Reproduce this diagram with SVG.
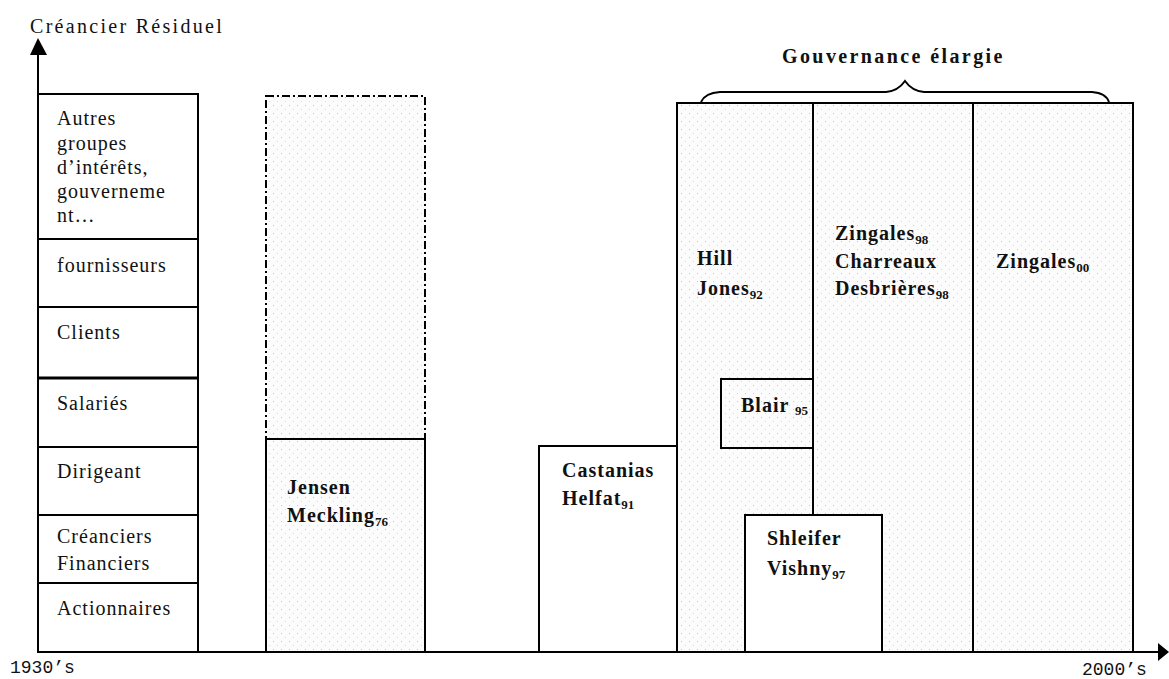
<svg xmlns="http://www.w3.org/2000/svg" width="1169" height="679" viewBox="0 0 1169 679">
<style>
.ln{stroke:#000;stroke-width:2;fill:none}
.box{stroke:#000;stroke-width:2}
.t{font-family:"Liberation Serif",serif;font-size:20px;letter-spacing:1px;fill:#111}
.b{font-family:"Liberation Serif",serif;font-size:20px;font-weight:bold;letter-spacing:1px;fill:#111}
.sub{font-size:13px;letter-spacing:0}
.m{font-family:"Liberation Mono",monospace;font-size:18px;fill:#111}
</style>
<defs>
<pattern id="dots" width="8" height="8" patternUnits="userSpaceOnUse">
<rect width="8" height="8" fill="#fcfcfc"/>
<rect x="1" y="1" width="1" height="1" fill="#c8c8c8"/>
<rect x="5" y="5" width="1" height="1" fill="#d8d8d8"/>
</pattern>
</defs>
<rect width="1169" height="679" fill="#fff"/>

<g id="axes">
<line class="ln" x1="38" y1="653" x2="38" y2="50"/>
<path d="M30,55 L38,38 L47,55 z" fill="#000"/>
<line class="ln" x1="38" y1="652" x2="1160" y2="652"/>
<path d="M1158,643 L1169,652 L1158,661 z" fill="#000"/>
<text x="30" y="33" class="t" style="letter-spacing:2.3px">Créancier Résiduel</text>
<text x="10" y="673" class="m">1930’s</text>
<text x="1082" y="675" class="m">2000’s</text>
</g>

<g id="stakeholders">
<rect x="38" y="94" width="160" height="558" fill="#fff" class="box"/>
<line class="ln" x1="38" y1="239" x2="198" y2="239"/>
<line class="ln" x1="38" y1="307" x2="198" y2="307"/>
<line x1="38" y1="378" x2="198" y2="378" stroke="#000" stroke-width="3"/>
<line class="ln" x1="38" y1="447" x2="198" y2="447"/>
<line class="ln" x1="38" y1="515" x2="198" y2="515"/>
<line class="ln" x1="38" y1="583" x2="198" y2="583"/>
<text class="t" x="57" y="125">Autres</text>
<text class="t" x="57" y="150">groupes</text>
<text class="t" x="57" y="174">d’intérêts,</text>
<text class="t" x="57" y="198">gouverneme</text>
<text class="t" x="57" y="222">nt…</text>
<text class="t" x="57" y="272">fournisseurs</text>
<text class="t" x="57" y="339">Clients</text>
<text class="t" x="57" y="410">Salariés</text>
<text class="t" x="57" y="478">Dirigeant</text>
<text class="t" x="57" y="543">Créanciers</text>
<text class="t" x="57" y="570">Financiers</text>
<text class="t" x="57" y="615">Actionnaires</text>
</g>

<g id="jensen-meckling">
<rect x="266" y="96" width="159" height="343" fill="url(#dots)" stroke="#000" stroke-width="2" stroke-dasharray="8,3,2,3"/>
<rect x="266" y="439" width="159" height="213" fill="url(#dots)" class="box"/>
<text class="b" x="287" y="494">Jensen</text>
<text class="b" x="287" y="522">Meckling<tspan class="sub" dy="4">76</tspan></text>
</g>

<g id="castanias-helfat">
<rect x="539" y="446" width="138" height="206" fill="#fff" class="box"/>
<text class="b" x="562" y="477">Castanias</text>
<text class="b" x="562" y="505">Helfat<tspan class="sub" dy="4">91</tspan></text>
</g>

<g id="gouvernance-elargie">
<rect x="677" y="103" width="456" height="549" fill="url(#dots)" class="box"/>
<line class="ln" x1="813" y1="103" x2="813" y2="515"/>
<line class="ln" x1="973" y1="103" x2="973" y2="652"/>
<path class="ln" d="M701,102 Q705,93 720,92 L886,92 Q898,91 905,81 Q912,91 924,92 L1092,92 Q1106,93 1109,102"/>
<text class="b" x="782" y="63" style="letter-spacing:2.4px">Gouvernance élargie</text>
</g>

<g id="hill-jones">
<text class="b" x="697" y="265">Hill</text>
<text class="b" x="697" y="295">Jones<tspan class="sub" dy="4">92</tspan></text>
</g>

<g id="zingales-charreaux">
<text class="b" x="835" y="240">Zingales<tspan class="sub" dy="4">98</tspan></text>
<text class="b" x="835" y="268">Charreaux</text>
<text class="b" x="835" y="295">Desbrières<tspan class="sub" dy="4">98</tspan></text>
</g>

<g id="zingales00">
<text class="b" x="996" y="268">Zingales<tspan class="sub" dy="4">00</tspan></text>
</g>

<g id="blair">
<rect x="721" y="379" width="92" height="69" fill="none" class="box"/>
<text class="b" x="741" y="412">Blair <tspan class="sub" dy="3">95</tspan></text>
</g>

<g id="shleifer-vishny">
<rect x="745" y="515" width="137" height="137" fill="#fff" class="box"/>
<text class="b" x="767" y="545">Shleifer</text>
<text class="b" x="767" y="575">Vishny<tspan class="sub" dy="4">97</tspan></text>
</g>
</svg>
